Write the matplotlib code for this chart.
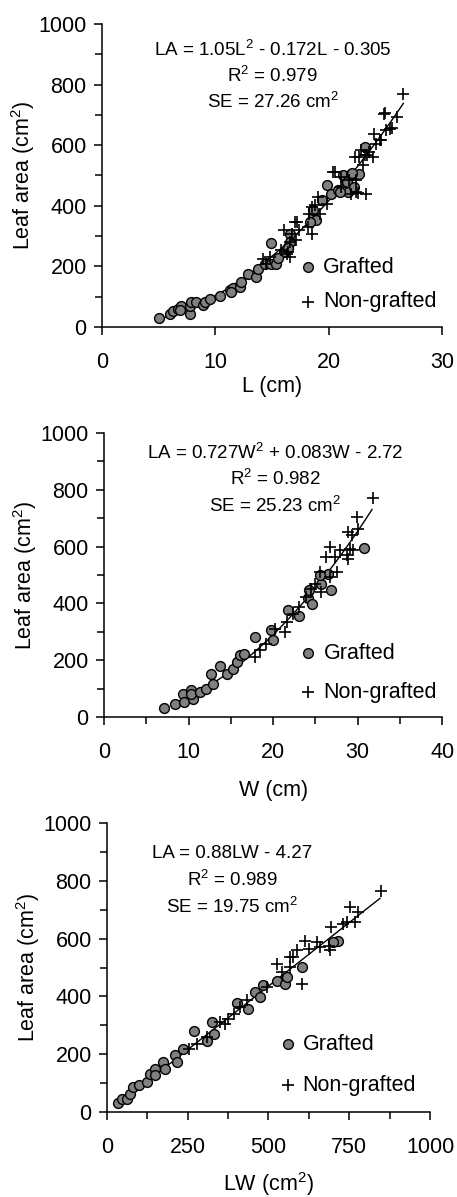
#!/usr/bin/env python3
"""Leaf area vs leaf length, width and L*W for grafted and non-grafted plants."""

import matplotlib

matplotlib.use("Agg")
import matplotlib.pyplot as plt
import numpy as np
from matplotlib.ticker import MultipleLocator

plt.rcParams["font.family"] = ["Liberation Sans", "DejaVu Sans"]
plt.rcParams["mathtext.fontset"] = "custom"
plt.rcParams["mathtext.rm"] = "Liberation Sans"
plt.rcParams["mathtext.it"] = "Liberation Sans"

# ---- panel 1: leaf length L (cm) ----
l_graft = [5.0, 6.0, 6.3, 6.7, 7.0, 6.9, 7.8, 7.8, 7.9, 8.3, 8.9, 9.1, 9.5, 10.4,
           11.3, 11.6, 11.4, 12.2, 12.3, 12.9, 13.6, 13.8, 14.4, 14.9, 15.4, 14.9,
           16.1, 16.4, 16.6, 16.6, 18.6, 18.6, 18.9, 19.4, 19.9, 20.2, 20.8, 21.3,
           21.6, 21.7, 22.0, 22.7, 23.2, 22.2, 21.0, 16.4, 15.5, 18.4, 22.1]
la_l_graft = [30, 42, 53, 60, 68, 55, 44, 68, 83, 83, 72, 83, 94, 101,
              121, 130, 116, 132, 149, 174, 165, 193, 209, 209, 209, 278,
              248, 264, 308, 281, 363, 385, 352, 418, 468, 440, 451, 501,
              479, 446, 506, 506, 594, 462, 446, 261, 228, 347, 508]
l_non = [14.8, 14.5, 14.2, 15.8, 16.3, 16.1, 17.0, 16.8, 17.1, 16.6, 17.4, 18.2,
         18.3, 18.5, 18.5, 19.1, 19.2, 19.9, 20.4, 21.1, 21.1, 21.8, 22.4, 23.3,
         22.4, 22.7, 22.9, 23.2, 23.6, 23.9, 24.2, 24.0, 24.6, 24.9, 25.1, 25.4,
         26.0, 26.6, 22.0, 23.0, 25.0, 25.6, 24.5, 23.4, 22.3, 20.6, 22.6, 18.8,
         17.2, 16.6, 16.4]
la_l_non = [231, 209, 226, 253, 242, 319, 347, 308, 286, 231, 319, 330,
            374, 308, 396, 429, 374, 407, 512, 495, 462, 484, 446, 440,
            484, 561, 583, 567, 578, 561, 605, 638, 616, 704, 649, 655,
            693, 768, 440, 534, 706, 657, 617, 568, 561, 512, 442, 403,
            347, 281, 248]

# ---- panel 2: leaf width W (cm) ----
w_graft = [7.1, 8.4, 9.3, 9.5, 10.3, 10.5, 10.3, 11.3, 12.1, 12.7, 12.9, 13.7,
           14.5, 15.3, 15.7, 16.1, 16.6, 17.9, 20.0, 19.8, 21.8, 23.1, 24.1,
           24.6, 24.3, 25.7, 26.8, 26.5, 30.8, 25.5]
la_w_graft = [33, 47, 82, 53, 96, 65, 82, 88, 100, 153, 117, 178,
              153, 170, 194, 217, 223, 282, 270, 308, 376, 354, 420,
              399, 446, 469, 448, 505, 596, 499]
w_non = [17.8, 18.4, 19.2, 20.2, 21.4, 21.6, 22.4, 23.1, 24.5, 24.9, 25.5, 25.7,
         26.3, 26.7, 27.5, 27.9, 28.7, 29.1, 28.9, 28.9, 29.3, 29.9, 30.1, 31.8,
         29.5, 26.7, 27.3, 23.9]
la_w_non = [211, 235, 258, 311, 299, 335, 361, 387, 452, 469, 510, 440,
            563, 599, 510, 587, 569, 593, 557, 651, 640, 704, 663, 771,
            587, 493, 563, 422]

# ---- panel 3: L x W (cm2) ----
lw_graft = [33, 46, 62, 72, 82, 98, 124, 134, 149, 149, 175, 180, 211, 216, 235,
            268, 309, 330, 325, 402, 437, 458, 474, 484, 526, 551, 557, 605,
            716, 701]
la_lw_graft = [32, 46, 46, 63, 86, 92, 104, 132, 150, 127, 173, 150, 196, 173, 219,
               280, 245, 271, 311, 377, 357, 415, 397, 438, 455, 444, 467, 501,
               593, 588]
lw_non = [253, 278, 309, 351, 366, 376, 392, 412, 433, 495, 526, 541, 567, 577,
          588, 603, 613, 624, 650, 660, 686, 691, 694, 732, 742, 753, 768, 778,
          849, 567]
la_lw_non = [219, 236, 259, 311, 305, 323, 340, 363, 386, 432, 513, 484, 501, 536,
             559, 444, 593, 565, 588, 570, 576, 559, 640, 651, 657, 709, 657, 691,
             766, 536]

# fitted models and their printed statistics
fit_l = [1.05, -0.172, -0.305]
fit_w = [0.727, 0.083, -2.72]
fit_lw = [0.88, -4.27]
eq_texts = [
    ["LA = 1.05L$^2$ - 0.172L - 0.305", "R$^2$ = 0.979", "SE = 27.26 cm$^2$"],
    ["LA = 0.727W$^2$ + 0.083W - 2.72", "R$^2$ = 0.982", "SE = 25.23 cm$^2$"],
    ["LA = 0.88LW - 4.27", "R$^2$ = 0.989", "SE = 19.75 cm$^2$"],
]
x_labels = ["L (cm)", "W (cm)", "LW (cm$^2$)"]
x_limits = [(0, 30), (0, 40), (0, 1000)]
x_major = [10, 10, 250]
x_minor = [None, 5, 125]
fit_ranges = [(5.0, 26.6), (8.5, 31.7), (40, 845)]

FS = 15.5

fig = plt.figure(figsize=(4.57, 11.97), dpi=100)
axes = [
    fig.add_axes([0.223, 0.7268, 0.744, 0.2532]),
    fig.add_axes([0.2276, 0.401, 0.740, 0.2373]),
    fig.add_axes([0.234, 0.0710, 0.707, 0.2414]),
]

data = [
    (l_graft, la_l_graft, l_non, la_l_non, fit_l),
    (w_graft, la_w_graft, w_non, la_w_non, fit_w),
    (lw_graft, la_lw_graft, lw_non, la_lw_non, fit_lw),
]
eq_pos = [
    (0.503, [0.914, 0.828, 0.743]),
    (0.506, [0.930, 0.838, 0.743]),
    (0.387, [0.896, 0.803, 0.709]),
]
leg_pos = [(0.606, 0.198, 0.083), (0.604, 0.225, 0.088), (0.56, 0.235, 0.093)]
xlabel_pad = [2, 12, 9]

for i, ax in enumerate(axes):
    xg, yg, xn, yn, coef = data[i]
    lo, hi = fit_ranges[i]
    xs = np.linspace(lo, hi, 200)
    ax.plot(xs, np.polyval(coef, xs), color="black", linewidth=1.0, zorder=1)
    ax.scatter(xg, yg, s=50, c="#808080", edgecolors="black", linewidths=1.0,
               zorder=2)
    ax.scatter(xn, yn, s=75, marker="+", c="black", linewidths=1.2, zorder=3)

    ax.set_xlim(*x_limits[i])
    ax.set_ylim(0, 1000)
    ax.xaxis.set_major_locator(MultipleLocator(x_major[i]))
    if x_minor[i]:
        ax.xaxis.set_minor_locator(MultipleLocator(x_minor[i]))
    ax.yaxis.set_major_locator(MultipleLocator(200))
    ax.yaxis.set_minor_locator(MultipleLocator(100))
    for side in ("top", "right"):
        ax.spines[side].set_visible(False)
    for side in ("left", "bottom"):
        ax.spines[side].set_linewidth(1.1)
    ax.tick_params(axis="both", which="major", direction="out", length=6,
                   width=1.1, labelsize=FS)
    ax.tick_params(axis="both", which="minor", direction="out", length=5,
                   width=1.1)
    ax.tick_params(axis="x", which="major", pad=12)
    ax.tick_params(axis="y", which="major", pad=5)

    ax.set_ylabel("Leaf area (cm$^2$)", fontsize=FS, labelpad=1)
    ax.set_xlabel(x_labels[i], fontsize=FS, labelpad=xlabel_pad[i])

    cx, ys = eq_pos[i]
    for txt, yy in zip(eq_texts[i], ys):
        ax.text(cx, yy, txt, transform=ax.transAxes, ha="center", va="center",
                fontsize=13.5)

    lx, ly1, ly2 = leg_pos[i]
    ax.plot([lx], [ly1], "o", ms=7, mfc="#808080", mec="black", mew=1.0,
            transform=ax.transAxes, clip_on=False)
    ax.plot([lx], [ly2], "+", ms=8.5, color="black", mew=1.2,
            transform=ax.transAxes, clip_on=False)
    ax.text(lx + 0.045, ly1, "Grafted", transform=ax.transAxes, ha="left",
            va="center", fontsize=FS)
    ax.text(lx + 0.045, ly2, "Non-grafted", transform=ax.transAxes, ha="left",
            va="center", fontsize=FS)

fig.savefig("out.png", dpi=100)
